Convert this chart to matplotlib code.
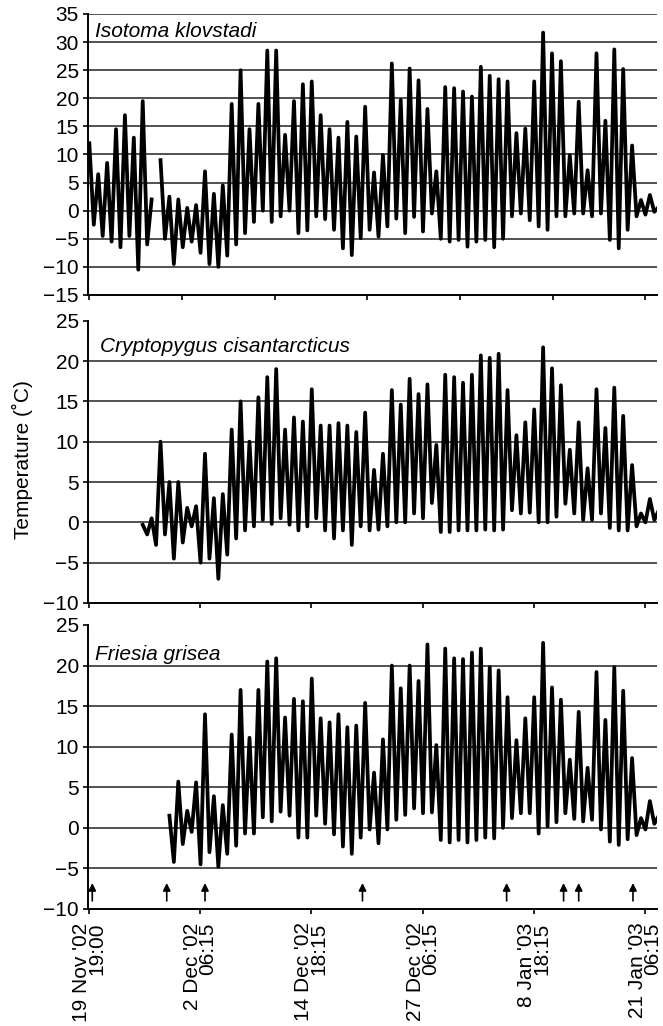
import matplotlib
matplotlib.use('Agg')
import matplotlib.pyplot as plt
import numpy as np
from datetime import datetime

plt.rcParams['font.family'] = ['Liberation Sans', 'DejaVu Sans']
plt.rcParams['font.size'] = 15

# logging start and x-axis label dates
start = datetime(2002, 11, 19, 19, 0)
tick_dates = [datetime(2002, 11, 19, 19, 0), datetime(2002, 12, 2, 6, 15),
              datetime(2002, 12, 14, 18, 15), datetime(2002, 12, 27, 6, 15),
              datetime(2003, 1, 8, 18, 15), datetime(2003, 1, 21, 6, 15)]

# sampling occasions (days after start), marked with arrows
sample_days = [0.33, 8.7, 13.0, 30.7, 46.9, 53.3, 55.0, 61.1]

# daily maxima (day 0..64) and the minima that follow them (day 0.5..63.5)
# None = no record
iso_max = [12, 6.5, 8.5, 14.5, 17, 13, 19.5, 2, 9, 2.5,
           2, 0.5, 1, 7, 3, 4.5, 19, 25, 14.5, 19,
           28.5, 28.5, 13.5, 19.5, 22.5, 23, 17, 14.5, 13, 15.8,
           13.2, 18.5, 6.8, 9.9, 26.2, 19.7, 25.3, 23.2, 18.1, 7,
           22, 21.8, 21.2, 20.3, 25.6, 24, 23.4, 23, 13.8, 14.6,
           23, 31.7, 28, 26.6, 9.9, 19.4, 7.2, 28, 16, 28.7,
           25.2, 11.6, 1.9, 2.8, 0.7]
iso_min = [-2.5, -4.5, -5.5, -6.5, -4.5, -10.5, -6, None, -5, -9.5,
           -6.5, -5.5, -7.5, -9.5, -10, -8, -6, -4, -2, 0,
           -2, -1, 0, -4, -3.5, -1, -1.5, -3.4, -6.7, -7.9,
           -4.9, -3.4, -4.6, -2.8, -1.4, -4, -1.1, -3.7, -0.5, -5,
           -5.5, -5.2, -6.4, -5.5, -5.2, -6.5, -5, -1, -0.5, -1.7,
           -2.8, -3.4, -1, -1, -0.5, -0.5, -1, -0.5, -5.2, -6.7,
           -3.4, -1, -0.7, -0.2]

cry_max = [None] * 6 + [-0.3, 0.5, 10, 5,
           5, 1.8, 2, 8.5, 3, 3.5, 11.5, 15, 10, 15.5,
           18, 19, 11.5, 13, 12.5, 16.5, 12, 12, 12.3, 12,
           11.2, 13.6, 6.5, 8.5, 16.4, 14.6, 17.8, 15.9, 17.1, 9.6,
           18.3, 18, 17.3, 18.3, 20.7, 20.4, 20.9, 16.4, 10.8, 12.4,
           14, 21.7, 19.1, 17, 9, 12.4, 6.7, 16.5, 11.7, 16.7,
           13.2, 7.1, 1.1, 2.9, 1.5]
cry_min = [None] * 6 + [-1.5, -2.8, -1.5, -4.5,
           -2.5, -0.5, -5, -4.5, -7, -4, -2, -1, -0.5, 0.3,
           -0.2, 0.5, -0.3, -1, -0.5, 0.5, -1, -2, -1, -2.8,
           -0.5, -1, -0.9, -0.5, 0, 0, 1.1, 0.5, 2.4, -1.2,
           -1.2, -1, -1, -1, -0.9, -1, -0.9, 1.5, 1.1, 1.2,
           0, 0, 0.7, 2.3, 1.1, 0.3, 0.3, 1.1, -0.7, -1,
           -1, -0.5, 0, 0.3]

fri_max = [None] * 9 + [1.5,
           5.7, 2.1, 5.6, 14, 3.9, 2.8, 11.5, 17, 11.1, 17,
           20.5, 20.9, 13.6, 15.9, 15.6, 18.4, 13.5, 13, 14, 12.4,
           12.6, 15.4, 6.8, 10.9, 20, 17.2, 20, 18.1, 22.6, 10.2,
           22.1, 20.9, 20.8, 21.6, 22.1, 19.8, 19.4, 16.1, 10.8, 13.5,
           16.1, 22.8, 17.3, 15.8, 8.4, 14.3, 7.4, 19.2, 13.3, 19.8,
           16.9, 8.6, 1.2, 3.3, 1.5]
fri_min = [None] * 9 + [-4.2,
           -2, -0.5, -4.5, -3, -4.8, -3.2, -2.2, -0.7, -0.7, 1.3,
           0.8, 2, 1.5, -1.2, -1.2, 1.5, 0.5, -0.8, -2.3, -3.2,
           -1.2, -0.2, -1.9, -0.2, 1, 1.6, 2.4, 1.8, 1.9, -1.5,
           -1.8, -1.5, -1.8, -1.5, -1.2, -1.3, 0, 1.2, 1.8, 1.8,
           -0.7, 0.2, 0.7, 1.8, 1.1, 0.8, 1, -0.2, -1.7, -2.1,
           -1.4, -0.9, -0.2, 0.5]

species = ["Isotoma klovstadi", "Cryptopygus cisantarcticus", "Friesia grisea"]


def series(maxima, minima):
    t, v = [], []
    for k, hi in enumerate(maxima):
        t.append(k)
        v.append(np.nan if hi is None else hi)
        if k < len(minima):
            t.append(k + 0.5)
            v.append(np.nan if minima[k] is None else minima[k])
    return np.array(t, float), np.array(v, float)


tick_days = [(d - start).total_seconds() / 86400 for d in tick_dates]
tick_labels = [f"{d.day} {d:%b} '{d:%y}\n{d:%H:%M}" for d in tick_dates]

fig = plt.figure(figsize=(6.63, 10.26), dpi=100)
W, H = 663, 1026
left, right = 88, 657
boxes = [(14, 295), (320.7, 603), (625, 909)]
ylims = [(-15, 35), (-10, 25), (-10, 25)]
label_y = [0.917, 0.888, 0.877]
data = [(iso_max, iso_min), (cry_max, cry_min), (fri_max, fri_min)]

axes = []
for i, ((top, bot), (lo, hi)) in enumerate(zip(boxes, ylims)):
    ax = fig.add_axes([left / W, 1 - bot / H, (right - left) / W, (bot - top) / H])
    axes.append(ax)
    gl = range(lo + 5, hi + 1 if i == 0 else hi, 5)
    for g in gl:
        ax.axhline(g, color='#222222', lw=1.1, zorder=1)
    t, v = series(*data[i])
    # thin trace reaching the extremes, heavy trace for the dense logger points
    ax.plot(t, v, color='#555555', lw=0.9, zorder=2)
    ax.plot(t, v, color='black', lw=2.7, zorder=3, solid_joinstyle='round')
    ax.set_ylim(lo, hi)
    ax.set_yticks(range(lo, hi + 1, 5))
    ax.set_xlim(-0.15, 63.8)
    for s in ('top', 'right'):
        ax.spines[s].set_visible(False)
    for s in ('left', 'bottom'):
        ax.spines[s].set_linewidth(1.4)
    ax.tick_params(axis='y', length=3.5, width=1.2, pad=3, labelsize=15)
    ax.tick_params(axis='x', length=3.6, width=1.2, pad=6, labelsize=15)
    ax.text(0.012 if i != 1 else 0.021, label_y[i], species[i], transform=ax.transAxes,
            fontsize=15, style='italic', va='baseline', ha='left')
    if i == 0:
        ax.set_xticks(np.linspace(0, tick_days[-1], 7))
        ax.set_xticklabels([])
    elif i == 1:
        ax.set_xticks(tick_days)
        ax.set_xticklabels([])
    else:
        ax.set_xticks(tick_days)
        ax.set_xticklabels(tick_labels, rotation=90, va='top', ha='center',
                           multialignment='right', linespacing=0.75)

for d in sample_days:
    axes[2].annotate('', xy=(d, -6.8), xytext=(d, -9.0),
                     arrowprops=dict(arrowstyle='-|>', color='black', lw=1.2,
                                     mutation_scale=11, shrinkA=0, shrinkB=0))

fig.text(22 / W, 1 - 460 / H, "Temperature (˚C)", rotation=90, ha='center',
         va='center', fontsize=15)

fig.savefig('out.png', dpi=100)
